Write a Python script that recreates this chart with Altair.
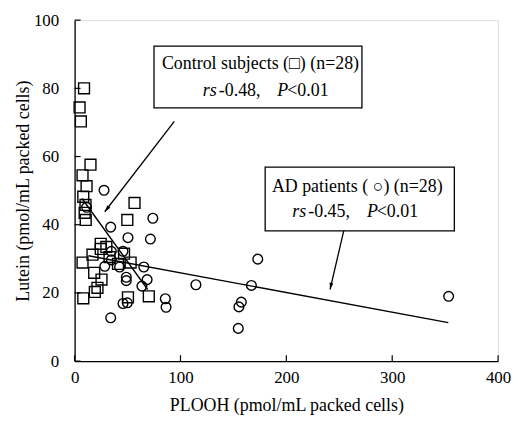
import altair as alt
import pandas as pd

# ---- data ----
ctrl_x = [8.9, 4.7, 5.9, 15.0, 7.5, 11.3, 8.2, 10.3, 9.5, 10.5, 56.6, 49.8, 24.7, 24.7,
          16.9, 7.5, 46.7, 52.9, 18.5, 25.4, 21.6, 19.1, 8.2, 50.4, 70.1, 33.0, 41.0, 30.0]
ctrl_y = [80.0, 74.4, 70.3, 57.6, 54.5, 51.3, 48.2, 45.8, 43.5, 41.4, 46.4, 41.4, 34.4, 32.9,
          31.2, 28.9, 31.5, 28.9, 25.9, 23.9, 21.5, 20.3, 18.4, 18.7, 19.0, 30.5, 28.5, 33.5]
ad_x = [27.8, 11.3, 73.9, 34.1, 50.4, 71.6, 34.7, 45.7, 34.7, 28.5, 42.5, 65.4, 48.8, 48.8,
        68.5, 63.6, 114.6, 85.7, 86.4, 49.8, 45.7, 34.1, 173.0, 167.0, 157.5, 155.2, 154.6, 353.3]
ad_y = [50.1, 45.1, 41.9, 39.3, 36.2, 35.8, 32.2, 32.2, 29.7, 27.8, 27.6, 27.6, 24.6, 23.6,
        23.9, 22.0, 22.4, 18.3, 15.8, 17.1, 16.9, 12.7, 29.9, 22.2, 17.3, 15.9, 9.6, 19.0]

ctrl_line_x = [7, 69]
ctrl_line_y = [47.7, 21.0]
ad_line_x = [13, 353]
ad_line_y = [30.9, 11.3]

x_ticks = [0, 100, 200, 300, 400]
y_ticks = [0, 20, 40, 60, 80, 100]

# annotation boxes (data coordinates)
box_x = [75.0, 180.0]
box_x2 = [271.4, 358.7]
box_y = [92.4, 56.9]
box_y2 = [74.3, 38.2]

title_lines = ["Control subjects (\u25a1) (n=28)", "AD patients ( \u25cb) (n=28)"]
title_x = [175.6, 267.0]
title_y = [87.2, 51.0]

stat_text = ["rs", "-0.48,", "P", "<0.01", "rs", "-0.45,", "P", "<0.01"]
stat_x = [121.1, 136.2, 191.5, 200.9, 205.6, 220.7, 276.1, 285.4]
stat_y = [79.3] * 4 + [43.7] * 4
stat_style = ["italic", "normal", "italic", "normal"] * 2

arrow_x = [94.2, 256.3]
arrow_y = [70.3, 41.0]
arrow_x2 = [28.5, 241.3]
arrow_y2 = [43.8, 21.0]
arrow_angle = [218, 192]

W, H = 426, 343
FONT = "Liberation Serif"

xs = alt.Scale(domain=[0, 400], nice=False, zero=False)
ys = alt.Scale(domain=[0, 100], nice=False, zero=False)

ctrl_df = pd.DataFrame({"x": ctrl_x, "y": ctrl_y})
ad_df = pd.DataFrame({"x": ad_x, "y": ad_y})

base_axes = alt.Chart(pd.DataFrame({"x": [0], "y": [0]})).mark_point(opacity=0).encode(
    x=alt.X("x:Q", scale=xs, axis=alt.Axis(
        title="PLOOH  (pmol/mL packed cells)", values=x_ticks, ticks=False, grid=False,
        labelFlush=False, labelOverlap=False,
        labelFont=FONT, labelFontSize=17, labelColor="black", labelPadding=9,
        titleFont=FONT, titleFontSize=18, titleFontWeight="normal", titleColor="black",
        titlePadding=11, domainColor="black", domainWidth=1.3)),
    y=alt.Y("y:Q", scale=ys, axis=alt.Axis(
        title="Lutein (pmol/mL packed cells)", values=y_ticks, ticks=False, grid=False,
        labelFlush=False, labelOverlap=False,
        labelFont=FONT, labelFontSize=17, labelColor="black", labelPadding=16,
        titleFont=FONT, titleFontSize=18, titleFontWeight="normal", titleColor="black",
        titlePadding=1, domainColor="black", domainWidth=1.3)),
)

xtick = alt.Chart(pd.DataFrame({"v": x_ticks})).mark_rule(color="black", strokeWidth=1.2).encode(
    x=alt.X("v:Q", scale=xs), y=alt.value(H), y2=alt.value(H - 6))
ytick = alt.Chart(pd.DataFrame({"v": y_ticks})).mark_rule(color="black", strokeWidth=1.2).encode(
    y=alt.Y("v:Q", scale=ys), x=alt.value(0), x2=alt.value(6))

ctrl_pts = alt.Chart(ctrl_df).mark_point(shape="square", size=120, filled=False,
                                          color="black", strokeWidth=1.4, opacity=1).encode(
    x=alt.X("x:Q", scale=xs), y=alt.Y("y:Q", scale=ys))
ad_pts = alt.Chart(ad_df).mark_point(shape="circle", size=95, filled=False,
                                      color="black", strokeWidth=1.4, opacity=1).encode(
    x=alt.X("x:Q", scale=xs), y=alt.Y("y:Q", scale=ys))

ctrl_line = alt.Chart(pd.DataFrame({"x": ctrl_line_x, "y": ctrl_line_y})).mark_line(
    color="black", strokeWidth=1.4).encode(x=alt.X("x:Q", scale=xs), y=alt.Y("y:Q", scale=ys))
ad_line = alt.Chart(pd.DataFrame({"x": ad_line_x, "y": ad_line_y})).mark_line(
    color="black", strokeWidth=1.4).encode(x=alt.X("x:Q", scale=xs), y=alt.Y("y:Q", scale=ys))

boxes = alt.Chart(pd.DataFrame({"x": box_x, "x2": box_x2, "y": box_y, "y2": box_y2})).mark_rect(
    fill="white", stroke="black", strokeWidth=1.3).encode(
    x=alt.X("x:Q", scale=xs), x2="x2:Q", y=alt.Y("y:Q", scale=ys), y2="y2:Q")

titles = alt.Chart(pd.DataFrame({"x": title_x, "y": title_y, "t": title_lines})).mark_text(
    font=FONT, fontSize=18, color="black", align="center", baseline="middle").encode(
    x=alt.X("x:Q", scale=xs), y=alt.Y("y:Q", scale=ys), text="t:N")

stat_df = pd.DataFrame({"x": stat_x, "y": stat_y, "t": stat_text, "s": stat_style})
stats_it = alt.Chart(stat_df[stat_df.s == "italic"]).mark_text(
    font=FONT, fontSize=18, fontStyle="italic", color="black", align="left", baseline="middle").encode(
    x=alt.X("x:Q", scale=xs), y=alt.Y("y:Q", scale=ys), text="t:N")
stats_n = alt.Chart(stat_df[stat_df.s == "normal"]).mark_text(
    font=FONT, fontSize=18, color="black", align="left", baseline="middle").encode(
    x=alt.X("x:Q", scale=xs), y=alt.Y("y:Q", scale=ys), text="t:N")

arr_df = pd.DataFrame({"x": arrow_x, "y": arrow_y, "x2": arrow_x2, "y2": arrow_y2, "a": arrow_angle})
arr_lines = alt.Chart(arr_df).mark_rule(color="black", strokeWidth=1.3).encode(
    x=alt.X("x:Q", scale=xs), y=alt.Y("y:Q", scale=ys), x2="x2:Q", y2="y2:Q")
arr_heads = alt.Chart(arr_df).mark_point(
    shape="M0,0 L-0.45,1.6 L0.45,1.6 Z", size=70, filled=True, color="black", opacity=1).encode(
    x=alt.X("x2:Q", scale=xs), y=alt.Y("y2:Q", scale=ys), angle=alt.Angle("a:Q", scale=None))

chart = alt.layer(
    base_axes, xtick, ytick, ctrl_line, ad_line, ctrl_pts, ad_pts,
    arr_lines, arr_heads, boxes, titles, stats_it, stats_n
).properties(
    width=W, height=H, padding={"left": 6, "top": 2, "right": 0, "bottom": 0}
).configure_view(stroke=None).configure(background="white", font=FONT)

chart.save("out.html", embed_options={"renderer": "svg", "actions": False})
